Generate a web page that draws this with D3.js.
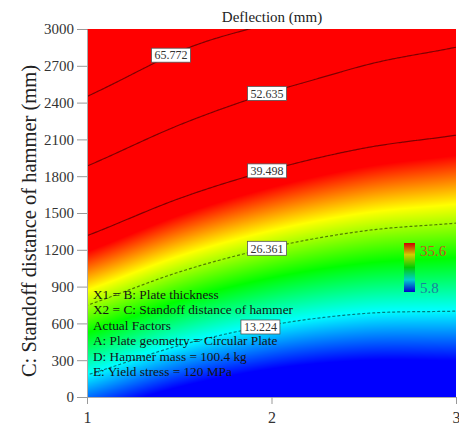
<!DOCTYPE html>
<html>
<head>
<meta charset="utf-8">
<script src="https://cdn.jsdelivr.net/npm/d3@7"></script>
<style>
  html, body { margin: 0; padding: 0; background: #fff; }
  svg { display: block; }
  svg text { font-family: "Liberation Serif", "Times New Roman", serif; }
</style>
</head>
<body>
<svg id="chart" width="459" height="427"></svg>
<script>
// Response surface: deflection (mm) over plate thickness (X1) and standoff distance (X2)
const thickness = [1, 1.5, 2, 2.5, 3];
const standoff = [0, 500, 1000, 1500, 2000, 2500, 3000];
// one row per standoff value, one column per thickness value
const deflection = [
  [9.06, 4.01, 1.05, 0.00, 0.40],
  [20.63, 14.98, 11.42, 9.71, 9.56],
  [32.21, 25.94, 21.79, 19.46, 18.72],
  [43.78, 36.91, 32.17, 29.21, 27.87],
  [55.35, 47.87, 42.54, 38.95, 37.04],
  [66.93, 58.84, 52.91, 48.70, 46.19],
  [78.50, 69.80, 64.50, 58.45, 55.35]
];
const contourLevels = [13.224, 26.361, 39.498, 52.635, 65.772];
const contourLabelAt = [1.94, 1.976, 1.976, 1.976, 1.455];
const contourDashed = [true, true, false, false, false];
const colorStops = [5.8, 13.4, 21.2, 29.2, 36.5];
const colorRange = ["#0000ff", "#00ffff", "#00ff00", "#ffff00", "#ff0000"];
const legendLabels = ["35.6", "5.8"];
const xTicks = [1, 2, 3];
const yTicks = [0, 300, 600, 900, 1200, 1500, 1800, 2100, 2400, 2700, 3000];
const factorNotes = [
  "X1 = B: Plate thickness",
  "X2 = C: Standoff distance of hammer",
  "Actual Factors",
  "A: Plate geometry = Circular Plate",
  "D: Hammer mass = 100.4 kg",
  "E: Yield stress = 120 MPa"
];

const SERIF = "Liberation Serif, Times New Roman, serif";
const plot = { left: 87, right: 456, top: 29, bottom: 397 };
const svg = d3.select("#chart");

const x = d3.scaleLinear().domain([1, 3]).range([plot.left, plot.right]);
const y = d3.scaleLinear().domain([0, 3000]).range([plot.bottom, plot.top]);
const color = d3.scaleLinear().domain(colorStops).range(colorRange).clamp(true);

// value of the surface: linear along standoff, Catmull-Rom along thickness
function rowAt(x2) {
  const step = standoff[1] - standoff[0];
  let j = Math.floor((x2 - standoff[0]) / step);
  j = Math.max(0, Math.min(standoff.length - 2, j));
  const t = (x2 - standoff[j]) / step;
  return deflection[j].map((v, i) => v + (deflection[j + 1][i] - v) * t);
}
function alongThickness(vals, x1) {
  const step = thickness[1] - thickness[0];
  const xc = Math.max(thickness[0], Math.min(thickness[thickness.length - 1], x1));
  let i = Math.floor((xc - thickness[0]) / step);
  i = Math.max(0, Math.min(thickness.length - 2, i));
  const t = (xc - thickness[i]) / step;
  const p1 = vals[i], p2 = vals[i + 1];
  const p0 = i > 0 ? vals[i - 1] : 2 * p1 - p2;
  const p3 = i + 2 < vals.length ? vals[i + 2] : 2 * p2 - p1;
  const t2 = t * t, t3 = t2 * t;
  return 0.5 * ((2 * p1) + (-p0 + p2) * t + (2 * p0 - 5 * p1 + 4 * p2 - p3) * t2 + (-p0 + 3 * p1 - 3 * p2 + p3) * t3);
}
function surface(x1, x2) { return alongThickness(rowAt(x2), x1); }

// colour fill of the plot area
const pw = plot.right - plot.left, ph = plot.bottom - plot.top;
const canvas = document.createElement("canvas");
canvas.width = pw; canvas.height = ph;
const ctx = canvas.getContext("2d");
const img = ctx.createImageData(pw, ph);
for (let py = 0; py < ph; py++) {
  const x2 = y.invert(plot.top + py + 0.5);
  const row = rowAt(x2);
  for (let px = 0; px < pw; px++) {
    const x1 = x.invert(plot.left + px + 0.5);
    const c = d3.rgb(color(alongThickness(row, x1)));
    const k = (py * pw + px) * 4;
    img.data[k] = c.r; img.data[k + 1] = c.g; img.data[k + 2] = c.b; img.data[k + 3] = 255;
  }
}
ctx.putImageData(img, 0, 0);
svg.append("image")
  .attr("x", plot.left).attr("y", plot.top)
  .attr("width", pw).attr("height", ph)
  .attr("preserveAspectRatio", "none")
  .attr("href", canvas.toDataURL());

svg.append("clipPath").attr("id", "plotClip")
  .append("rect").attr("x", plot.left).attr("y", plot.top).attr("width", pw).attr("height", ph);

// contour lines on a padded grid so ring edges stay outside the clip
const nx = 220, ny = 220;
const gx0 = 0.95, gx1 = 3.05, gy0 = -100, gy1 = 3100;
const grid = new Array(nx * ny);
for (let j = 0; j < ny; j++) {
  const x2 = gy0 + j * (gy1 - gy0) / (ny - 1);
  const row = rowAt(x2);
  for (let i = 0; i < nx; i++) {
    const x1 = gx0 + i * (gx1 - gx0) / (nx - 1);
    grid[j * nx + i] = alongThickness(row, x1);
  }
}
const contours = d3.contours().size([nx, ny]).thresholds(contourLevels)(grid);
const projection = d3.geoTransform({
  point(gx, gy) {
    const x1 = gx0 + (gx - 0.5) * (gx1 - gx0) / (nx - 1);
    const x2 = gy0 + (gy - 0.5) * (gy1 - gy0) / (ny - 1);
    this.stream.point(x(x1), y(x2));
  }
});
const path = d3.geoPath(projection);
svg.append("g").attr("clip-path", "url(#plotClip)")
  .selectAll("path").data(contours).join("path")
  .attr("d", path)
  .attr("fill", "none")
  .attr("stroke", "#000")
  .attr("stroke-opacity", 0.5)
  .attr("stroke-width", 1.2)
  .attr("stroke-dasharray", (d, i) => contourDashed[i] ? "3,2" : null);

// contour value labels
function standoffAt(x1, level) {
  let lo = -500, hi = 3500;
  for (let k = 0; k < 60; k++) {
    const mid = (lo + hi) / 2;
    if (surface(x1, mid) < level) lo = mid; else hi = mid;
  }
  return (lo + hi) / 2;
}
const labelG = svg.append("g");
contourLevels.forEach((lv, i) => {
  const cx = x(contourLabelAt[i]);
  const cy = y(standoffAt(contourLabelAt[i], lv));
  const g = labelG.append("g").attr("transform", `translate(${cx},${cy})`);
  const t = g.append("text")
    .attr("font-family", SERIF)
    .attr("text-anchor", "middle").attr("dy", "0.35em")
    .attr("font-size", 12).attr("fill", "#333")
    .text(lv.toFixed(3));
  const bb = t.node().getBBox();
  g.insert("rect", "text")
    .attr("x", bb.x - 3).attr("y", -7)
    .attr("width", bb.width + 6).attr("height", 14)
    .attr("fill", "#fff").attr("stroke", "#555").attr("stroke-width", 0.8);
});

// factor notes
svg.append("g").selectAll("text").data(factorNotes).join("text")
  .attr("font-family", SERIF)
  .attr("x", 93).attr("y", (d, i) => 299 + i * 15.4)
  .attr("font-size", 13.3).attr("fill", "#141414")
  .text(d => d);

// colour legend
const defs = svg.append("defs");
const grad = defs.append("linearGradient").attr("id", "legendGrad")
  .attr("x1", 0).attr("y1", 1).attr("x2", 0).attr("y2", 0);
colorStops.forEach((s, i) => {
  grad.append("stop")
    .attr("offset", (s - colorStops[0]) / (colorStops[colorStops.length - 1] - colorStops[0]))
    .attr("stop-color", d3.color(colorRange[i]).darker(0.6));
});
svg.append("rect").attr("x", 404).attr("y", 243).attr("width", 11).attr("height", 49)
  .attr("fill", "url(#legendGrad)");
svg.append("text").attr("font-family", SERIF).attr("x", 420).attr("y", 256).attr("font-size", 15)
  .attr("fill", "#c0581e").text(legendLabels[0]);
svg.append("text").attr("font-family", SERIF).attr("x", 420).attr("y", 293).attr("font-size", 15)
  .attr("fill", "#1d7f9e").text(legendLabels[1]);

// axes
const yAxis = svg.append("g").attr("transform", `translate(${plot.left},0)`)
  .call(d3.axisLeft(y).tickValues(yTicks).tickFormat(d3.format("d")).tickSize(10).tickSizeOuter(0).tickPadding(3));
const xAxis = svg.append("g").attr("transform", `translate(0,${plot.bottom})`)
  .call(d3.axisBottom(x).tickValues(xTicks).tickFormat(d3.format("d")).tickSize(7).tickSizeOuter(0).tickPadding(7.5));
[yAxis, xAxis].forEach(a => {
  a.attr("font-family", SERIF);
  a.select(".domain").attr("stroke", "#aaa");
  a.selectAll(".tick line").attr("stroke", "#999");
  a.selectAll(".tick text").attr("fill", "#333").attr("font-family", SERIF);
});
yAxis.selectAll(".tick text").attr("font-size", 15);
xAxis.selectAll(".tick text").attr("font-size", 16);

// titles
svg.append("text").attr("font-family", SERIF).attr("x", 272).attr("y", 22).attr("text-anchor", "middle")
  .attr("font-size", 15).attr("fill", "#222").text("Deflection (mm)");
svg.append("text").attr("font-family", SERIF)
  .attr("transform", "translate(36,221) rotate(-90)")
  .attr("text-anchor", "middle").attr("font-size", 20.5).attr("fill", "#222")
  .text("C: Standoff distance of hammer (mm)");
</script>
</body>
</html>
